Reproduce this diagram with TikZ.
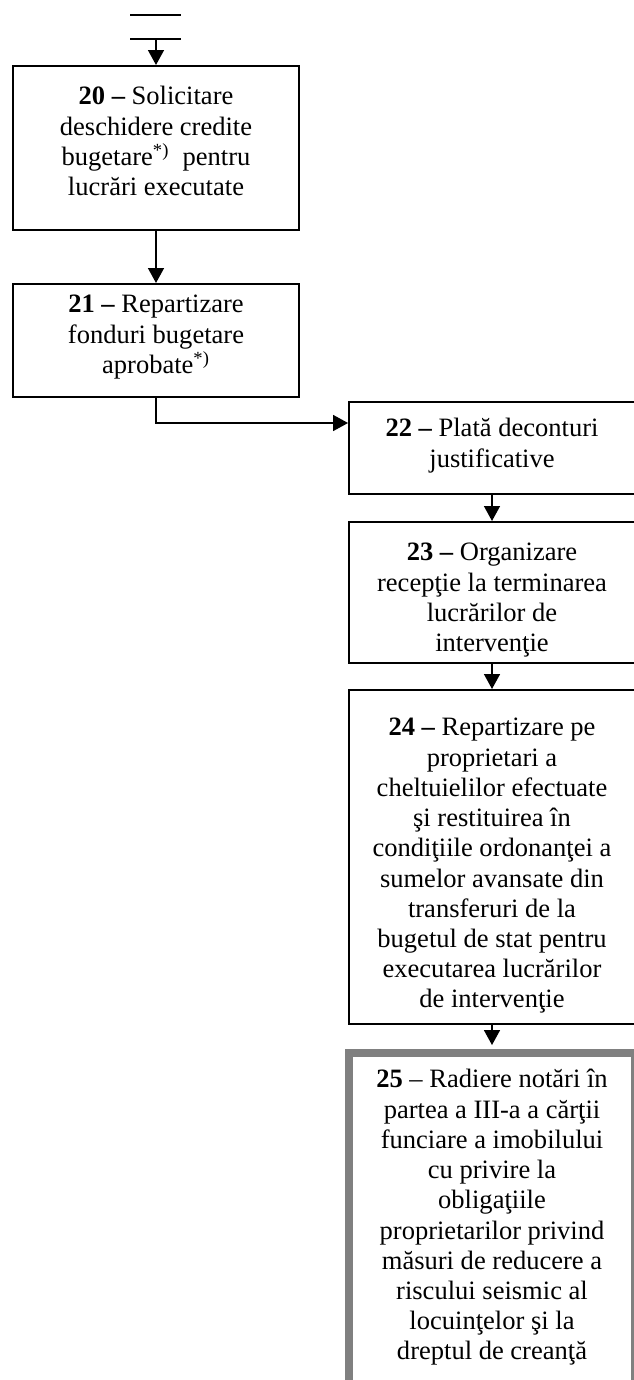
\documentclass[tikz,border=0pt]{standalone}
\usepackage{fontspec}
\setmainfont{Liberation Serif}
\usetikzlibrary{arrows.meta}

\definecolor{framegray}{HTML}{808080}

% fixed-height box text, first baseline at #2 from the top
\newcommand{\boxtext}[3]{\parbox[c][#1][t]{5.72cm}{\centering\fontsize{15.1}{17.2}\selectfont\rule{0pt}{#2}#3\par}}

\begin{document}
\begin{tikzpicture}[x=0.02cm,y=-0.02cm,line width=1.1pt,
  box/.style={draw, inner sep=0pt, anchor=north},
  arr/.style={-{Triangle[width=9pt,length=8.5pt]}}]

\useasboundingbox (0,0) rectangle (634,1380);
\clip (0,0) rectangle (634,1380);

\draw (130,15) -- (181,15);
\draw (130,39) -- (181,39);
\coordinate (start) at (156,39);

\node[box] (b20) at (156,65) {\boxtext{3.28cm}{0.78cm}{\textbf{20 –} Solicitare\\deschidere credite\\bugetare\textsuperscript{*)}\ \ pentru\\lucrări executate}};
\node[box] (b21) at (156,283) {\boxtext{2.26cm}{0.58cm}{\textbf{21 –} Repartizare\\fonduri bugetare\\aprobate\textsuperscript{*)}}};

\node[box] (b22) at (492,401) {\boxtext{1.84cm}{0.70cm}{\textbf{22 –} Plată deconturi\\justificative}};
\node[box] (b23) at (492,521) {\boxtext{2.82cm}{0.78cm}{\textbf{23 –} Organizare\\recepţie la terminarea\\lucrărilor de\\intervenţie}};
\node[box] (b24) at (492,689) {\boxtext{6.68cm}{0.92cm}{\textbf{24 –} Repartizare pe\\proprietari a\\cheltuielilor efectuate\\şi restituirea în\\condiţiile ordonanţei a\\sumelor avansate din\\transferuri de la\\bugetul de stat pentru\\executarea lucrărilor\\de intervenţie}};
\node[box, draw=framegray, line width=4.5pt] (b25) at (492,1049) {\boxtext{7.42cm}{0.70cm}{\textbf{25} – Radiere notări în\\partea a III-a a cărţii\\funciare a imobilului\\cu privire la\\obligaţiile\\proprietarilor privind\\măsuri de reducere a\\riscului seismic al\\locuinţelor şi la\\dreptul de creanţă}};

\draw[arr] (start) -- (b20);
\draw[arr] (b20) -- (b21);
\draw[arr] (b21.south) |- ([yshift=-0.44cm]b22.north west);
\draw[arr] (b22) -- (b23);
\draw[arr] (b23) -- (b24);
\draw[arr, shorten >=2.25pt] (b24) -- (b25);

\end{tikzpicture}
\end{document}
